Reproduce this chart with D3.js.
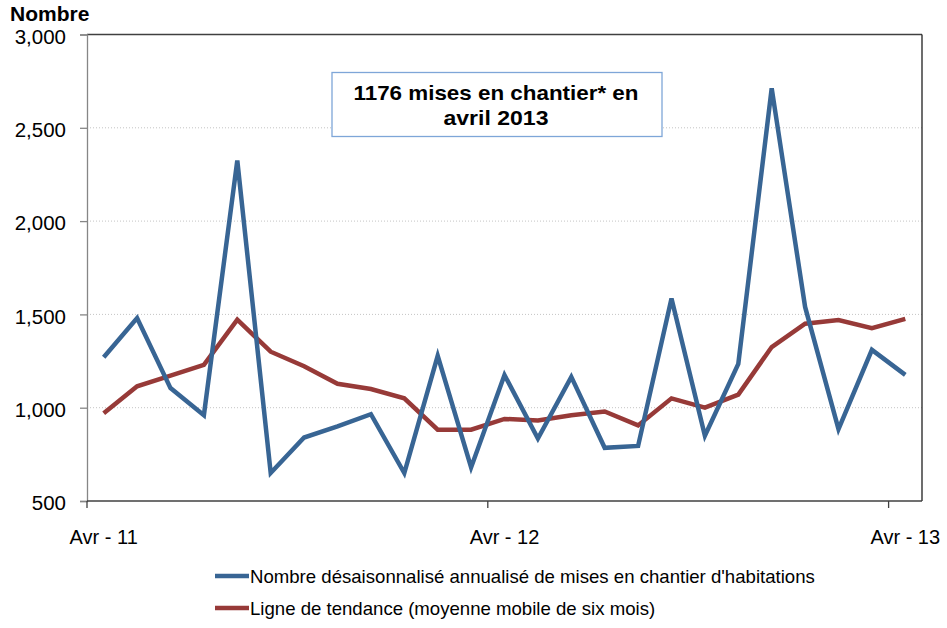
<!DOCTYPE html>
<html><head><meta charset="utf-8">
<script src="https://cdn.jsdelivr.net/npm/d3@7"></script>
<style>
body{margin:0;background:#fff;}
svg text{font-family:"Liberation Sans",Arial,sans-serif;}
</style></head>
<body><svg id="c" width="947" height="628"></svg>
<script>
const months = ["2011-04","2011-05","2011-06","2011-07","2011-08","2011-09","2011-10","2011-11","2011-12","2012-01","2012-02","2012-03","2012-04","2012-05","2012-06","2012-07","2012-08","2012-09","2012-10","2012-11","2012-12","2013-01","2013-02","2013-03","2013-04"];
const starts = [1270,1480,1105,960,2325,650,840,900,965,650,1278,680,1175,835,1165,785,795,1585,850,1235,2712,1540,885,1310,1176];
const trend = [970,1115,1172,1230,1472,1300,1222,1128,1100,1050,882,882,940,932,960,980,905,1050,1000,1070,1325,1450,1470,1426,1476];
const yTicks = [500,1000,1500,2000,2500,3000];
const xTickIdx = [0,12,24];
const xTickLabels = ["Avr - 11","Avr - 12","Avr - 13"];
const seriesNames = ["Nombre désaisonnalisé annualisé de mises en chantier d'habitations","Ligne de tendance (moyenne mobile de six mois)"];
const annotation = ["1176 mises en chantier* en","avril 2013"];

const svg = d3.select("#c");
const L=87, R=922, T=34.5, B=501;
const x = d3.scaleBand().domain(months).range([L,R]).padding(0);
const xc = m => x(m)+x.bandwidth()/2;
const y = d3.scaleLinear().domain([500,3000]).range([B,T]);

// gridlines
svg.append("g").selectAll("line").data(yTicks.filter(v=>v>500&&v<3000)).join("line")
  .attr("x1",L).attr("x2",R).attr("y1",d=>y(d)).attr("y2",d=>y(d))
  .attr("stroke","#c4c4c4").attr("stroke-width",1).attr("stroke-dasharray","1,2");

// plot border top/right
svg.append("line").attr("x1",L).attr("x2",R).attr("y1",T).attr("y2",T).attr("stroke","#404040").attr("stroke-width",1.3);
svg.append("line").attr("x1",R).attr("x2",R).attr("y1",T).attr("y2",B).attr("stroke","#202020").attr("stroke-width",1.3);

// y axis
const ya = svg.append("g").attr("transform",`translate(${L},0)`)
  .call(d3.axisLeft(y).tickValues(yTicks).tickSize(7).tickPadding(14).tickFormat(d3.format(",")));
ya.select(".domain").attr("stroke","#868686").attr("stroke-width",1.3);
ya.selectAll(".tick line").attr("stroke","#868686").attr("stroke-width",1.3);
ya.selectAll("text").attr("font-size","20.5px").attr("fill","#000").attr("dy","0.42em").attr("font-family","Liberation Sans, Arial, sans-serif");

// x axis
svg.append("line").attr("x1",L).attr("x2",R).attr("y1",B).attr("y2",B).attr("stroke","#404040").attr("stroke-width",1.5);
svg.append("g").selectAll("line").data(xTickIdx).join("line")
  .attr("x1",d=>x(months[d])).attr("x2",d=>x(months[d])).attr("y1",B).attr("y2",B+7)
  .attr("stroke","#404040").attr("stroke-width",1.3);
svg.append("g").selectAll("text").data(xTickIdx).join("text")
  .attr("x",d=>xc(months[d])).attr("y",544).attr("text-anchor","middle")
  .attr("font-size","20px").text((d,i)=>xTickLabels[i]);

// lines
const line = d3.line().x((d,i)=>xc(months[i])).y(d=>y(d));
svg.append("path").datum(trend).attr("d",line).attr("fill","none")
  .attr("stroke","#973a38").attr("stroke-width",4.5).attr("stroke-linejoin","miter");
svg.append("path").datum(starts).attr("d",line).attr("fill","none")
  .attr("stroke","#386594").attr("stroke-width",4.5).attr("stroke-linejoin","miter");

// y title
svg.append("text").attr("x",10).attr("y",21).attr("font-size","21px").attr("font-weight","bold").text("Nombre");

// annotation box
svg.append("rect").attr("x",332).attr("y",72.5).attr("width",330).attr("height",64)
  .attr("fill","#fff").attr("stroke","#7ea6d8").attr("stroke-width",1.3);
const annW = [285,105];
svg.append("g").selectAll("text").data(annotation).join("text")
  .attr("x",(d,i)=>496-annW[i]/2).attr("y",(d,i)=>100+i*25)
  .attr("textLength",(d,i)=>annW[i]).attr("lengthAdjust","spacingAndGlyphs")
  .attr("font-size","21px").attr("font-weight","bold").text(d=>d);

// legend
const colors = ["#386594","#973a38"];
const lg = svg.append("g");
seriesNames.forEach((n,i)=>{
  const yy = 576 + i*32;
  lg.append("line").attr("x1",215).attr("x2",249).attr("y1",yy).attr("y2",yy)
    .attr("stroke",colors[i]).attr("stroke-width",4.5);
  lg.append("text").attr("x",250).attr("y",yy+6.5).attr("font-size","18.6px").text(n);
});
</script></body></html>
